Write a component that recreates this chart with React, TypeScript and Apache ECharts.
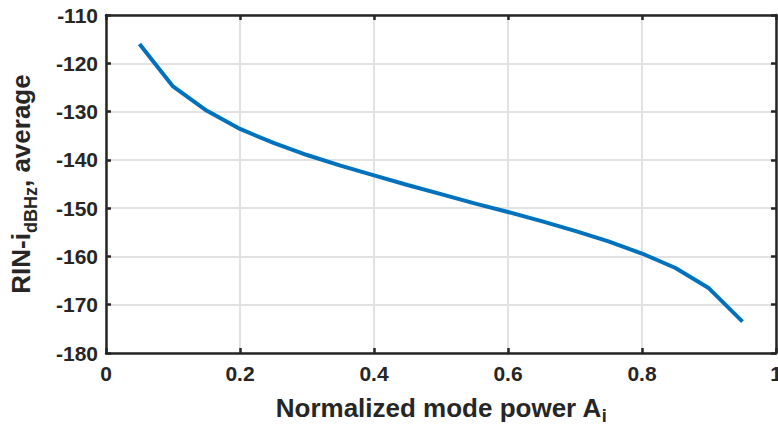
import React, { useEffect, useRef } from "react";
import * as echarts from "echarts";

const xValues = [0.05, 0.1, 0.15, 0.2, 0.25, 0.3, 0.35, 0.4, 0.45, 0.5, 0.55, 0.6, 0.65, 0.7, 0.75, 0.8, 0.85, 0.9, 0.95];
const rinValues = [-116, -124.8, -129.8, -133.6, -136.5, -139, -141.2, -143.2, -145.2, -147.1, -149, -150.8, -152.7, -154.7, -156.9, -159.4, -162.4, -166.6, -173.5];

const xMin = 0, xMax = 1, xStep = 0.2;
const yMin = -180, yMax = -110, yStep = 10;

const FONT = "'Liberation Sans', Arial, Helvetica, sans-serif";
const AX = "#262626";

export default function App() {
  const ref = useRef<HTMLDivElement>(null);
  useEffect(() => {
    if (!ref.current) return;
    const chart = echarts.init(ref.current, undefined, { renderer: "svg" });
    const data = xValues.map((x, i) => [x, rinValues[i]]);
    const axisLine = { show: true, onZero: false, lineStyle: { color: AX, width: 2.5 } };
    const tickIn = { show: true, inside: true, length: 5, lineStyle: { color: AX, width: 2.5 } };
    const labelStyle = { color: AX, fontFamily: FONT, fontWeight: "bold" as const, fontSize: 21 };
    chart.setOption({
      animation: false,
      backgroundColor: "#ffffff",
      grid: { left: 106, right: 2, top: 15, bottom: 76, containLabel: false, outerBoundsMode: "none" },
      xAxis: [
        {
          type: "value", min: xMin, max: xMax, interval: xStep, position: "bottom",
          axisLine, axisTick: tickIn,
          axisLabel: { ...labelStyle, margin: 10 },
          splitLine: { show: true, lineStyle: { color: "#e2e2e2", width: 2 } },
          name: "{a|Normalized mode power A}{b|i}",
          nameLocation: "middle", nameGap: 37,
          nameTextStyle: {
            rich: {
              a: { fontFamily: FONT, fontWeight: "bold", fontSize: 26, color: AX },
              b: { fontFamily: FONT, fontWeight: "bold", fontSize: 18, color: AX, padding: [17, 0, 0, 0] },
            },
          },
        },
        {
          type: "value", min: xMin, max: xMax, interval: xStep, position: "top",
          axisLine, axisTick: tickIn, axisLabel: { show: false }, splitLine: { show: false },
        },
      ],
      yAxis: [
        {
          type: "value", min: yMin, max: yMax, interval: yStep, position: "left",
          axisLine, axisTick: tickIn,
          axisLabel: { ...labelStyle, margin: 8 },
          splitLine: { show: true, lineStyle: { color: "#e2e2e2", width: 2 } },
          name: "{a|RIN-i}{b|dBHz}{a|, average}",
          nameLocation: "middle", nameGap: 66, nameRotate: 90,
          nameTextStyle: {
            rich: {
              a: { fontFamily: FONT, fontWeight: "bold", fontSize: 26, color: AX },
              b: { fontFamily: FONT, fontWeight: "bold", fontSize: 18, color: AX, padding: [20, 0, 0, 0] },
            },
          },
        },
        {
          type: "value", min: yMin, max: yMax, interval: yStep, position: "right",
          axisLine, axisTick: tickIn, axisLabel: { show: false }, splitLine: { show: false },
        },
      ],
      series: [
        {
          type: "line", data, xAxisIndex: 0, yAxisIndex: 0,
          showSymbol: false, symbol: "none",
          lineStyle: { color: "#0072BD", width: 4 },
        },
      ],
    });
    return () => chart.dispose();
  }, []);
  return <div ref={ref} style={{ position: "fixed", left: 0, top: 0, width: 778, height: 429 }} />;
}
